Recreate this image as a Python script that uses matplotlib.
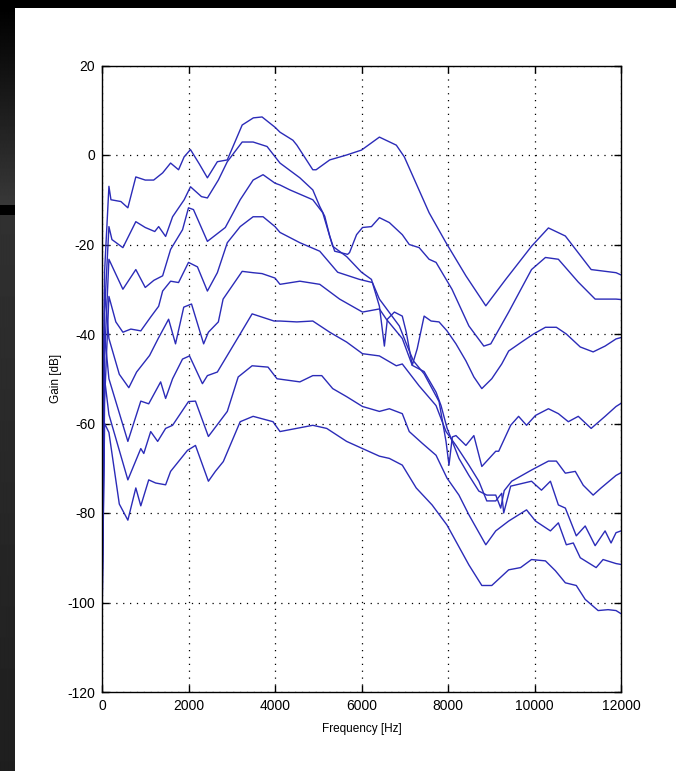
import numpy as np
import matplotlib.pyplot as plt
from matplotlib.patches import Rectangle

plt.rcParams['axes.unicode_minus'] = False

# measured gain curves, frequency in Hz, gain in dB (top to bottom)
hz_1 = [0, 60, 160, 207, 437, 598, 782, 1000, 1195, 1402, 1586, 1770, 1900, 2046, 2250, 2437, 2667, 2897,
        3241, 3500, 3701, 4000, 4115, 4414, 4506, 4874, 4950, 5265, 5656, 6000, 6414, 6805, 6989,
        7563, 7954, 8414, 8874, 9334, 9931, 10322, 10713, 11310, 11885, 12000]
db_1 = [-97, -26, -7, -10, -10.4, -11.8, -4.9, -5.6, -5.6, -4, -1.8, -3.3, -0.4, 1.2, -2, -5.1, -1.5, -1.1,
        6.7, 8.3, 8.5, 6.2, 5.1, 3.3, 2.2, -3.3, -3.3, -1.1, 0, 1.1, 4, 2.2, -0.4,
        -12.9, -19.6, -27, -33.7, -27.8, -20.4, -16.3, -18.1, -25.6, -26.3, -26.8]

hz_2 = [0, 60, 160, 230, 483, 782, 1000, 1220, 1310, 1471, 1632, 1900, 2046, 2300, 2437, 2690, 2897,
        3241, 3494, 3816, 4115, 4575, 4874, 5035, 5150, 5265, 5380, 5678, 5724, 5886, 6023, 6230,
        6414, 6644, 6943, 7104, 7333, 7563, 7724, 8092, 8483, 8828, 8989, 9403, 9931, 10253, 10552,
        11012, 11402, 11885, 12000]
db_2 = [-90, -35, -16, -18.9, -20.7, -14.9, -16.2, -17.1, -16, -18.2, -13.8, -10, -7.1, -9.3, -9.6, -5.6, -1.5,
        2.9, 2.9, 1.9, -1.8, -5.1, -7.8, -11.5, -13.7, -18.1, -21.5, -22.2, -21.8, -17.8, -16.2, -16,
        -14, -15.1, -17.8, -20, -20.7, -23.3, -24, -30, -38.2, -42.7, -42.2, -35.1, -25.6, -22.9, -23.3,
        -28.4, -32.2, -32.2, -32.3]

hz_3 = [0, 60, 160, 270, 483, 782, 1000, 1200, 1402, 1586, 1862, 2000, 2115, 2437, 2851, 3195, 3494, 3724,
        4000, 4115, 4345, 4874, 5104, 5334, 5656, 6000, 6230, 6414, 6529, 6598, 6760, 6943, 7035,
        7173, 7288, 7448, 7609, 7793, 7977, 8184, 8414, 8598, 8782, 9012, 9242, 9403, 9701, 9977,
        10253, 10506, 10736, 11058, 11356, 11632, 11885, 12000]
db_3 = [-100, -45, -23.3, -25.6, -30, -25.6, -29.6, -28, -27, -21.1, -16.7, -11.8, -12.2, -19.3, -16.2, -10, -5.6, -4.4,
        -6.3, -6.7, -7.8, -10, -12.9, -20.4, -22.7, -26.2, -27.8, -33.8, -42.7, -36.7, -35.1, -36, -39.6,
        -47, -43.3, -36, -37.1, -37.3, -39.3, -42.2, -46, -49.6, -52.2, -50, -46.7, -43.8, -41.8, -40,
        -38.5, -38.5, -40, -42.9, -44, -42.7, -41.1, -40.8]

hz_4 = [0, 60, 160, 320, 483, 667, 897, 1126, 1310, 1402, 1586, 1770, 2000, 2207, 2437, 2667, 2897, 3195,
        3494, 3724, 4000, 4115, 4575, 5035, 5449, 5954, 6253, 6414, 6874, 7058, 7200, 7448, 7793,
        7954, 8023, 8100, 8184, 8414, 8598, 8782, 9104, 9172, 9449, 9632, 9816, 10023, 10322, 10552,
        10782, 11012, 11310, 11632, 11885, 12000]
db_4 = [-106, -55, -31.6, -37.3, -39.6, -38.9, -39.3, -36.2, -33.8, -30.4, -28.2, -28.5, -24, -25, -30.4, -26.3, -19.6, -16,
        -13.8, -13.8, -16, -17.3, -19.6, -21.5, -26.2, -27.8, -28.5, -32.2, -38.2, -42.7, -46, -48.9, -55.1,
        -64, -69.3, -63, -62.7, -64.9, -62.7, -69.6, -66.2, -66.2, -60.4, -58.4, -60.4, -58.2, -56.7, -57.8,
        -59.6, -58.4, -61.1, -58.4, -56.2, -55.5]

hz_5 = [0, 60, 160, 400, 620, 800, 1100, 1300, 1540, 1700, 1890, 2070, 2350, 2460, 2690, 2800, 3241, 3494,
        3700, 4000, 4115, 4575, 5035, 5494, 6023, 6414, 6575, 6943, 7173, 7448, 7724, 7839, 7977,
        8253, 8483, 8713, 8897, 9104, 9219, 9300, 9472, 9931, 10322, 10506, 10713, 10943, 11127,
        11356, 11540, 11885, 12000]
db_5 = [-85, -30, -41, -49, -52, -48.5, -44.8, -41, -36.7, -42.2, -34, -33.3, -42.2, -39.6, -37.3, -32.2, -26, -26.3,
        -26.5, -27.5, -28.9, -28.2, -28.9, -32.2, -35.1, -34.4, -36.7, -41, -47, -48.4, -53, -56, -61,
        -67.8, -71.6, -75.1, -76, -76, -78.9, -75, -72.9, -70.4, -68.4, -68.4, -71.1, -70.7, -73.8,
        -76, -74.4, -71.6, -71]

hz_6 = [0, 60, 160, 598, 897, 1080, 1356, 1471, 1632, 1862, 2023, 2322, 2437, 2667, 3126, 3471, 3977, 4115,
        4506, 4874, 5265, 5656, 6023, 6414, 6805, 6943, 7333, 7724, 7954, 8184, 8483, 8713, 8897,
        9104, 9242, 9288, 9449, 9931, 10161, 10368, 10552, 10713, 10966, 11172, 11402, 11632, 11770,
        11885, 12000]
db_6 = [-95, -40, -50, -64, -55, -55.6, -50.7, -54.4, -50, -45.6, -44.9, -51.1, -49.3, -48.5, -41.1, -35.5, -37.1, -37.1,
        -37.3, -37.1, -39.6, -41.8, -44.4, -44.9, -47.1, -46.7, -51.6, -56, -61.8, -64.9, -69.3, -72.9, -77.3,
        -77.3, -75.6, -80, -74, -72.9, -74.9, -72.9, -78.2, -78.9, -85.1, -82.9, -87.3, -84, -86.7,
        -84.4, -84]

hz_7 = [0, 60, 160, 598, 897, 966, 1126, 1287, 1471, 1632, 2000, 2161, 2460, 2897, 3149, 3471, 3839, 4046,
        4575, 4874, 5081, 5334, 5656, 6023, 6414, 6644, 6943, 7104, 7402, 7724, 7977, 8253, 8483,
        8874, 9104, 9403, 9816, 10023, 10368, 10552, 10736, 10897, 11058, 11425, 11586, 11885, 12000]
db_7 = [-100, -50, -58, -72.6, -65.6, -66.7, -61.8, -64, -61.1, -60.4, -55.1, -55, -62.9, -57.3, -49.6, -47.1, -47.4, -50,
        -50.7, -49.3, -49.3, -52.2, -54, -56.2, -57.3, -56.7, -57.8, -61.8, -64.4, -67.1, -72.2, -76, -80.4,
        -87.1, -84, -81.8, -79.3, -81.8, -84, -82.2, -87.1, -86.7, -90, -92.2, -90.4, -91.3, -91.5]

hz_8 = [0, 60, 160, 400, 598, 782, 897, 1080, 1241, 1471, 1586, 1977, 2161, 2460, 2621, 2805, 3195, 3494,
        3954, 4115, 4874, 5196, 5656, 6023, 6414, 6644, 6943, 7265, 7632, 7977, 8483, 8782, 9012,
        9403, 9678, 9931, 10253, 10483, 10713, 10966, 11172, 11471, 11701, 11885, 12000]
db_8 = [-104, -60, -62, -78, -81.6, -74.4, -78.4, -72.6, -73.3, -73.7, -70.7, -66, -64.9, -72.9, -70.7, -68.5, -59.6, -58.4,
        -59.6, -61.8, -60.4, -61.1, -64, -65.6, -67.3, -67.8, -69.3, -74.4, -78.2, -82.7, -91.6, -96.2, -96.2,
        -92.7, -92.2, -90.4, -90.7, -92.9, -95.6, -96.2, -99.3, -101.8, -101.6, -101.8, -102.5]

curves = [(hz_1, db_1), (hz_2, db_2), (hz_3, db_3), (hz_4, db_4),
          (hz_5, db_5), (hz_6, db_6), (hz_7, db_7), (hz_8, db_8)]

x_ticks = [0, 2000, 4000, 6000, 8000, 10000, 12000]
y_ticks = [-120, -100, -80, -60, -40, -20, 0, 20]

W, H = 676, 771
fig = plt.figure(figsize=(W / 100, H / 100), dpi=100, facecolor='black')

# white page
fig.patches.append(Rectangle((14 / W, 0), 1, (H - 8) / H, transform=fig.transFigure,
                             facecolor='white', edgecolor='none', zorder=-5))

# dark shaded strip on the far left
strip = fig.add_axes([0, 0, 14 / W, 1], zorder=-4)
shade = np.zeros(H)
shade[8:205] = np.linspace(0.0, 0.22, 197)
shade[215:] = np.linspace(0.19, 0.12, H - 215)
strip.imshow(shade[:, None], cmap='gray', vmin=0, vmax=1, aspect='auto',
             extent=(0, 1, H, 0), interpolation='bilinear')
strip.set_axis_off()

ax = fig.add_axes([102 / W, 1 - 692 / H, 519 / W, 626.5 / H])
ax.set_facecolor('white')

for f, g in curves:
    ax.plot(f, g, color='#2b2bb8', lw=1.0)

ax.set_xlim(0, 12000)
ax.set_ylim(-120, 20)
ax.set_xticks(x_ticks)
ax.set_yticks(y_ticks)
ax.grid(True, color='black', linestyle=(0, (1, 4.5)), linewidth=0.9)
ax.tick_params(direction='in', length=5, width=1, top=True, right=True,
               labelsize=10, pad=5, colors='black')
for lab in ax.get_xticklabels() + ax.get_yticklabels():
    lab.set_family('Liberation Sans')
for s in ax.spines.values():
    s.set_linewidth(1)

ax.set_xlabel('Frequency [Hz]', family='Liberation Sans', fontsize=8.5, labelpad=7)
ax.set_ylabel('Gain [dB]', family='Liberation Sans', fontsize=8.5, labelpad=4)

fig.savefig('out.png', dpi=100, facecolor=fig.get_facecolor())
